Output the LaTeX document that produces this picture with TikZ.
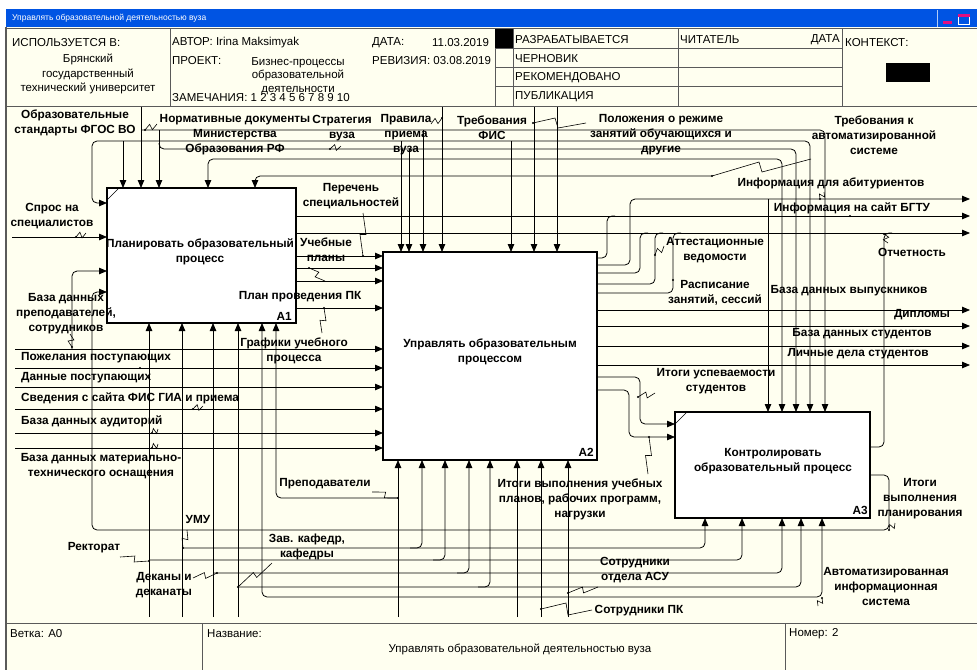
\documentclass[tikz,border=0pt]{standalone}
\usepackage{fontspec}
\setmainfont{Liberation Sans}
\usetikzlibrary{arrows.meta, calc}

\definecolor{paper}{RGB}{255,255,240}
\definecolor{titleblue}{RGB}{0,84,227}
\definecolor{rulegray}{RGB}{90,90,90}

\newcommand{\lblfont}{\fontsize{11.8}{15}\selectfont\bfseries}
\newcommand{\hdrfont}{\fontsize{11.5}{14}\selectfont}
% squiggle from the arrow point #1 to the label point #2
\newcommand{\squig}[2]{%
  \coordinate (sqm) at ($(#1)!0.5!(#2)$);
  \draw[line width=0.6pt] (#1) -- ($(sqm)!3pt!90:(#2)$) -- ($(sqm)!3pt!-90:(#2)$) -- (#2);
  \fill (#1) circle (1.1pt);}

\begin{document}
\begin{tikzpicture}[x=1pt, y=-1pt,
    lbl/.style={font=\lblfont, align=center, inner sep=0pt},
    hdr/.style={font=\hdrfont, anchor=west, inner sep=0pt},
    func/.style={draw, line width=1.2pt, fill=white, inner sep=0pt},
    flow/.style={line width=0.8pt, rounded corners=5pt},
    arr/.style={flow, -{Triangle[length=8pt, width=6.5pt]}},
    arrboth/.style={flow, {Triangle[length=8pt, width=6.5pt]}-{Triangle[length=8pt, width=6.5pt]}},
    arrback/.style={flow, {Triangle[length=8pt, width=6.5pt]}-},
    hline/.style={rulegray, line width=0.8pt}]
    \useasboundingbox (0,0) rectangle (977,670);
    % Window and form
    \fill[white] (0,0) rectangle (977,670);
    \fill[paper] (6,27) rectangle (977,670);
    \fill[titleblue] (6,9) rectangle (977,27);
    \node[font=\fontsize{8.5}{10}\selectfont, text=white, anchor=west, inner sep=0pt] (ttl) at (12,18) {Управлять образовательной деятельностью вуза};
    \draw[white!70!titleblue] (937,10) -- (937,27);
    \fill[magenta!80!purple] (943,21) rectangle (952,24);
    \draw[white, line width=1.2pt] (958.5,14.5) rectangle (969.5,24.5);
    \fill[magenta!80!purple] (958,14) rectangle (970,17);
    \draw[rulegray, line width=1.2pt] (6,27) -- (6,670);
    % Header
    \draw[hline] (6,28) -- (977,28);
    \draw[hline] (6,106) -- (977,106);
    \foreach \xv in {170,495,513,678,842}
        \draw[hline] (\xv,28) -- (\xv,106);
    \foreach \yv in {48,67,86}
        \draw[hline] (495,\yv) -- (842,\yv);
    \fill (495,29) rectangle (513,48);
    \fill (886,63) rectangle (930,82);
    \node[hdr] (used) at (12,43) {ИСПОЛЬЗУЕТСЯ В:};
    \node[hdr, anchor=center, align=center, font=\fontsize{11.5}{14.2}\selectfont] (org) at (88,74) {Брянский\\государственный\\технический университет};
    \node[hdr] (author) at (172,43) {АВТОР: Irina Maksimyak};
    \node[hdr] (proj) at (172,61) {ПРОЕКТ:};
    \node[hdr, anchor=center, align=center, font=\fontsize{11.5}{13.5}\selectfont] (projv) at (298,76) {Бизнес-процессы\\образовательной\\деятельности};
    \node[hdr] (notes) at (172,98) {ЗАМЕЧАНИЯ: 1 2 3 4 5 6 7 8 9 10};
    \node[hdr] (date) at (372,43) {ДАТА:};
    \node[hdr] (datev) at (432,43) {11.03.2019};
    \node[hdr] (rev) at (372,61) {РЕВИЗИЯ: 03.08.2019};
    \node[hdr] (st1) at (515,40) {РАЗРАБАТЫВАЕТСЯ};
    \node[hdr] (st2) at (515,59) {ЧЕРНОВИК};
    \node[hdr] (st3) at (515,78) {РЕКОМЕНДОВАНО};
    \node[hdr] (st4) at (515,97) {ПУБЛИКАЦИЯ};
    \node[hdr] (reader) at (680,40) {ЧИТАТЕЛЬ};
    \node[hdr, anchor=east] (rdate) at (840,40) {ДАТА};
    \node[hdr] (ctx) at (845,43) {КОНТЕКСТ:};
    % Footer
    \draw[hline] (6,623) -- (977,623);
    \draw[hline] (202,623) -- (202,670);
    \draw[hline] (785,623) -- (785,670);
    \node[hdr] (branch) at (10,634) {Ветка: A0};
    \node[hdr] (nameh) at (207,634) {Название:};
    \node[hdr, anchor=center] (namev) at (520,649) {Управлять образовательной деятельностью вуза};
    \node[hdr] (numh) at (789,634) {Номер: 2};

    % Function boxes
    \node[func, minimum width=189pt, minimum height=135pt] (A1) at (201.5,255.5) {};
    \node[func, minimum width=214pt, minimum height=208pt] (A2) at (490,356) {};
    \node[func, minimum width=195pt, minimum height=106pt] (A3) at (772.5,465) {};
    \draw[line width=0.6pt] (107,200) -- (119,188);
    \draw[line width=0.6pt] (675,424) -- (687,412);
    \node[lbl] (A1t) at (200,252) {Планировать образовательный\\процесс};
    \node[lbl] (A2t) at (490,352) {Управлять образовательным\\процессом};
    \node[lbl] (A3t) at (773,461) {Контролировать\\образовательный процесс};
    \node[lbl, anchor=base east] (A1n) at (292,320) {A1};
    \node[lbl, anchor=base east] (A2n) at (594,456) {A2};
    \node[lbl, anchor=base east] (A3n) at (868,514) {A3};

    % Controls from the top
    \draw[arr] (141,107) -- (141,188);
    \draw[arr] (442,107) -- (442,252);
    \draw[arr] (534,107) -- (534,252);
    \draw[arr] (557,107) -- (557,252);
    \draw[arr] (141,130) -- (825,130) -- (825,412);
    \draw[arr] (159,130) -- (159,188);
    \draw[arr] (423,130) -- (423,252);
    \draw[arrboth] (107,203) -- (92,203) -- (92,141) -- (810,141) -- (810,412);
    \draw[arr] (123,141) -- (123,188);
    \draw[arr] (401,141) -- (401,252);
    \draw[arr] (511,141) -- (511,252);
    \draw[arr] (159,143) -- (159,149) -- (796,149) -- (796,412);
    \draw[arr] (409,149) -- (409,252);
    \draw[arrboth] (208,188) -- (208,159) -- (782,159) -- (782,412);
    \draw[arrback] (255,188) -- (255,176) -- (712,176);
    \draw[arr] (768,199) -- (768,412);

    % Outputs to the right border
    \draw[arr] (296,216) -- (970,216);
    \draw[arr] (296,233) -- (970,233);
    \draw[flow] (597,258) -- (607,258) -- (607,216) -- (615,216);
    \draw[arr] (597,265) -- (630,265) -- (630,199) -- (970,199);
    \draw[flow] (597,273) -- (640,273) -- (640,233) -- (648,233);
    \draw[flow] (597,284) -- (655,284) -- (655,233) -- (663,233);
    \draw[flow] (597,293) -- (673,293) -- (673,233) -- (681,233);
    \foreach \yv in {310,326,346,365}
        \draw[arr] (597,\yv) -- (970,\yv);
    \draw[flow] (870,447) -- (884,447) -- (884,233) -- (892,233);

    % A1 to A2, A2 to A3, feedback
    \foreach \yv in {256,268,281,308}
        \draw[arr] (296,\yv) -- (383,\yv);
    \draw[arr] (597,377) -- (640,377) -- (640,424) -- (675,424);
    \draw[arr] (597,390) -- (629,390) -- (629,437) -- (675,437);
    \draw[arr] (870,475) -- (889,475) -- (889,530) -- (92,530) -- (92,292) -- (107,292);

    % Inputs from the left border
    \draw[arr] (12,237) -- (107,237);
    \foreach \yv in {349,368,387,409,433,448}
        \draw[arr] (15,\yv) -- (383,\yv);
    \draw[arr] (72,349) -- (72,271) -- (107,271);

    % Mechanisms from the bottom
    \draw[arr] (149,617) -- (149,323);
    \draw[arr] (149,560) -- (445,560) -- (445,460);
    \draw[arr] (433,560) -- (742,560) -- (742,518);
    \draw[arr] (182,617) -- (182,323);
    \draw[arr] (182,548) -- (422,548) -- (422,460);
    \draw[arr] (410,548) -- (705,548) -- (705,518);
    \draw[arr] (213,617) -- (213,323);
    \draw[arr] (213,573) -- (469,573) -- (469,460);
    \draw[arr] (457,573) -- (782,573) -- (782,518);
    \draw[arr] (238,617) -- (238,323);
    \draw[arr] (238,587) -- (490,587) -- (490,460);
    \draw[arr] (478,587) -- (801,587) -- (801,518);
    \draw[arr] (517,617) -- (517,460);
    \draw[arr] (517,597) -- (262,597) -- (262,323);
    \draw[arr] (517,597) -- (822,597) -- (822,518);
    \draw[arr] (398,617) -- (398,460);
    \draw[arr] (398,498) -- (276,498) -- (276,323);
    \draw[arr] (541,617) -- (541,460);
    \draw[arr] (568,617) -- (568,460);

    % Labels, top
    \node[lbl] (fgos) at (75,123) {Образовательные\\стандарты ФГОС ВО};
    \node[lbl] (norm) at (235,135) {Нормативные документы\\Министерства\\Образования РФ};
    \node[lbl] (strat) at (342,128) {Стратегия\\вуза};
    \node[lbl] (prav) at (406,135) {Правила\\приема\\вуза};
    \node[lbl] (trfis) at (492,128) {Требования\\ФИС};
    \node[lbl] (polozh) at (661,135) {Положения о режиме\\занятий обучающихся и\\другие};
    \node[lbl] (tras) at (874,135) {Требования к\\автоматизированной\\системе};
    % Labels, left
    \node[lbl] (spros) at (52,216) {Спрос на\\специалистов};
    \node[lbl] (bdprep) at (66,314) {База данных\\преподавателей,\\сотрудников};
    \node[lbl, anchor=west] (pozh) at (21,358) {Пожелания поступающих};
    \node[lbl, anchor=west] (dann) at (21,378) {Данные поступающих};
    \node[lbl, anchor=west] (sved) at (21,398) {Сведения с сайта ФИС ГИА и приема};
    \node[lbl, anchor=west] (bdaud) at (21,421) {База данных аудиторий};
    \node[lbl] (bdmto) at (101,466) {База данных материально-\\технического оснащения};
    % Labels, between boxes
    \node[lbl] (perech) at (351,196) {Перечень\\специальностей};
    \node[lbl] (uchpl) at (326,250) {Учебные\\планы};
    \node[lbl] (plpk) at (300,297) {План проведения ПК};
    \node[lbl] (graf) at (294,351) {Графики учебного\\процесса};
    \node[lbl] (attest) at (715,250) {Аттестационные\\ведомости};
    \node[lbl] (rasp) at (715,293) {Расписание\\занятий, сессий};
    \node[lbl] (itusp) at (716,381) {Итоги успеваемости\\студентов};
    % Labels, right
    \node[lbl] (infab) at (831,183) {Информация для абитуриентов};
    \node[lbl] (infsite) at (852,208) {Информация на сайт БГТУ};
    \node[lbl] (otch) at (912,252) {Отчетность};
    \node[lbl] (bdvyp) at (849,291) {База данных выпускников};
    \node[lbl] (dipl) at (922,315) {Дипломы};
    \node[lbl] (bdstud) at (862,334) {База данных студентов};
    \node[lbl] (lichn) at (858,354) {Личные дела студентов};
    \node[lbl] (itplan) at (920,499) {Итоги\\выполнения\\планирования};
    % Labels, bottom
    \node[lbl] (itvyp) at (580,499) {Итоги выполнения учебных\\планов, рабочих программ,\\нагрузки};
    \node[lbl] (prep) at (325,484) {Преподаватели};
    \node[lbl] (umu) at (198,519) {УМУ};
    \node[lbl] (rekt) at (94,548) {Ректорат};
    \node[lbl] (dek) at (164,585) {Деканы и\\деканаты};
    \node[lbl] (zav) at (307,547) {Зав. кафедр,\\кафедры};
    \node[lbl] (asu) at (635,570) {Сотрудники\\отдела АСУ};
    \node[lbl] (sotrpk) at (639,611) {Сотрудники ПК};
    \node[lbl] (ais) at (886,586) {Автоматизированная\\информационная\\система};

    % Squiggles
    \squig{145,130}{157,124}
    \squig{330,149}{341,146}
    \squig{442,118}{431,124}
    \draw[line width=0.6pt] (533,123) -- (555,118) -- (558,128) -- (586,123);
    \fill (533,123) circle (1.1pt);
    \draw[line width=0.6pt] (712,176) -- (759,162) -- (762,172) -- (811,159);
    \fill (712,176) circle (1.1pt);
    \squig{820,199}{824,192}
    \fill (850,216) circle (1.1pt);
    \squig{884,234}{888,243}
    \squig{363,256}{363,213}
    \squig{309,268}{325,281}
    \squig{324,308}{322,333}
    \squig{655,255}{664,246}
    \fill (673,280) circle (1.1pt);
    \squig{638,397}{655,393}
    \squig{649,437}{648,474}
    \squig{76,237}{86,233}
    \squig{72,347}{70,334}
    \fill (140,368) circle (1.1pt);
    \squig{193,409}{203,406}
    \squig{152,433}{158,429}
    \squig{152,448}{158,444}
    \squig{398,498}{372,492}
    \squig{183,548}{187,530}
    \squig{149,561}{120,557}
    \squig{217,573}{193,578}
    \squig{238,587}{272,563}
    \squig{568,593}{598,587}
    \draw[line width=0.6pt] (541,609) -- (566,603) -- (568,615) -- (592,610);
    \fill (541,609) circle (1.1pt);
    \squig{822,598}{818,606}
    \squig{889,530}{895,523}
\end{tikzpicture}
\end{document}
